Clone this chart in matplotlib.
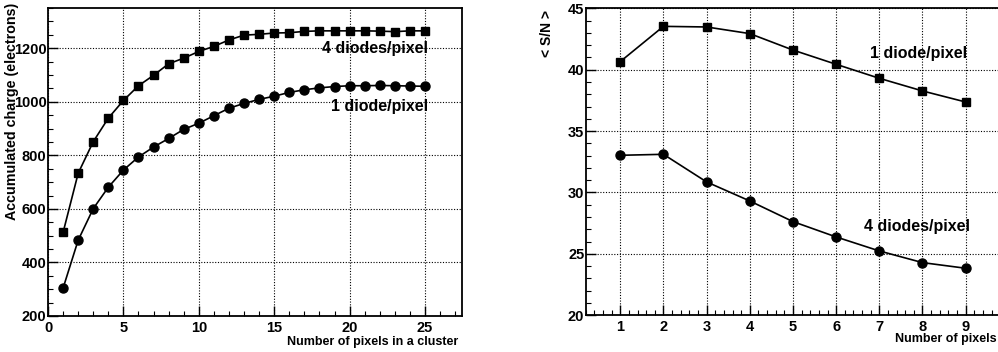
import numpy as np
from matplotlib import pyplot as plt
from matplotlib.ticker import MultipleLocator

plt.rcParams["font.family"] = ["Liberation Sans", "DejaVu Sans"]

# left panel: accumulated charge vs cluster size
n_cluster = list(range(1, 26))
charge_4d = [512, 733, 851, 939, 1005, 1060, 1099, 1142, 1163, 1188, 1207, 1231,
             1249, 1252, 1257, 1258, 1263, 1265, 1265, 1265, 1265, 1264, 1262, 1265, 1265]
charge_1d = [304, 483, 601, 681, 745, 794, 831, 863, 897, 920, 948, 976,
             994, 1009, 1021, 1035, 1045, 1052, 1057, 1060, 1060, 1061, 1060, 1059, 1058]

# right panel: mean S/N vs number of pixels
n_pix = list(range(1, 10))
sn_1d = [40.66, 43.53, 43.48, 42.94, 41.60, 40.44, 39.30, 38.27, 37.37]
sn_4d = [33.03, 33.11, 30.86, 29.31, 27.63, 26.38, 25.24, 24.29, 23.83]


def style_axes(ax):
    ax.tick_params(which="both", direction="in", top=False, right=False,
                   labelsize=10.5)
    ax.tick_params(axis="x", pad=3.5)
    ax.tick_params(axis="y", pad=1)
    ax.tick_params(which="major", length=7.5, width=1)
    ax.tick_params(which="minor", length=3.6, width=0.8)
    for lab in ax.get_xticklabels() + ax.get_yticklabels():
        lab.set_fontweight("bold")
    for sp in ax.spines.values():
        sp.set_linewidth(1.3)
    ax.grid(True, which="major", color="black", linestyle=(0, (1, 1.5)), linewidth=0.8)


fig = plt.figure(figsize=(9.98, 3.52), dpi=100)

ax1 = fig.add_axes([0.0481, 0.1023, 0.4148, 0.8747])
ax1.plot(n_cluster, charge_4d, "-s", color="black", markersize=6, linewidth=1.2)
ax1.plot(n_cluster, charge_1d, "-o", color="black", markersize=6.5, linewidth=1.2)
ax1.set_xlim(0, 27.45)
ax1.set_ylim(200, 1350)
ax1.xaxis.set_major_locator(MultipleLocator(5))
ax1.xaxis.set_minor_locator(MultipleLocator(1))
ax1.yaxis.set_major_locator(MultipleLocator(200))
ax1.yaxis.set_minor_locator(MultipleLocator(50))
style_axes(ax1)
ax1.text(25.2, 1200, "4 diodes/pixel", ha="right", va="center", fontsize=11.5,
         fontweight="bold")
ax1.text(25.2, 983, "1 diode/pixel", ha="right", va="center", fontsize=11.5,
         fontweight="bold")
ax1.set_xlabel("Number of pixels in a cluster", fontsize=9, fontweight="bold",
               loc="right")
ax1.xaxis.set_label_coords(0.990, -0.064)
ax1.set_ylabel("Accumulated charge (electrons)", fontsize=10.3, fontweight="bold",
               loc="top")
ax1.yaxis.set_label_coords(-0.070, 1.016)

ax2 = fig.add_axes([0.5869, 0.1043, 0.4153, 0.8721])
ax2.plot(n_pix, sn_1d, "-s", color="black", markersize=6, linewidth=1.2)
ax2.plot(n_pix, sn_4d, "-o", color="black", markersize=6.5, linewidth=1.2)
ax2.set_xlim(0.2, 9.8)
ax2.set_ylim(20, 45)
ax2.xaxis.set_major_locator(MultipleLocator(1))
ax2.xaxis.set_minor_locator(MultipleLocator(0.2))
ax2.yaxis.set_major_locator(MultipleLocator(5))
ax2.yaxis.set_minor_locator(MultipleLocator(1))
ax2.set_xticks(n_pix)
style_axes(ax2)
ax2.text(9.03, 41.36, "1 diode/pixel", ha="right", va="center", fontsize=11.5,
         fontweight="bold")
ax2.text(9.1, 27.19, "4 diodes/pixel", ha="right", va="center", fontsize=11.5,
         fontweight="bold")
ax2.set_xlabel("Number of pixels", fontsize=9, fontweight="bold", loc="right")
ax2.xaxis.set_label_coords(0.9923, -0.058)
ax2.set_ylabel("< S/N >", fontsize=10, fontweight="bold", loc="top")
ax2.yaxis.set_label_coords(-0.0765, 0.994)

fig.savefig("out.png", dpi=100)
